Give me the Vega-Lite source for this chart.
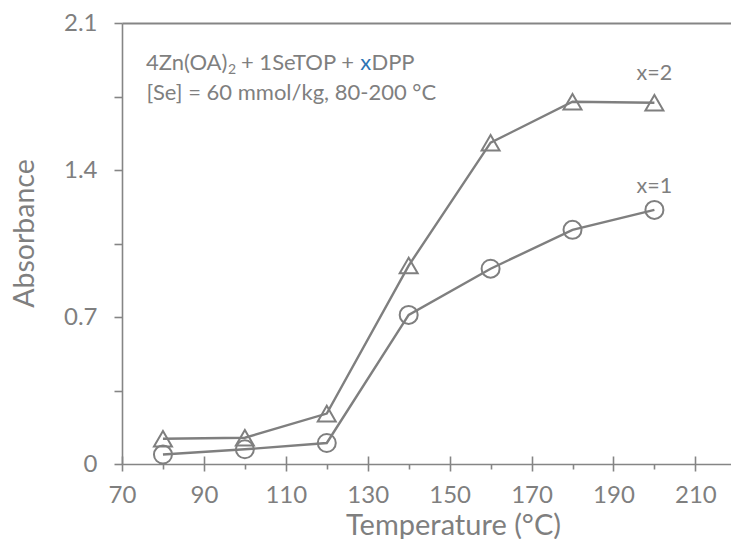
{
  "$schema": "https://vega.github.io/schema/vega-lite/v6.json",
  "width": 609,
  "height": 441,
  "autosize": {"type": "none"},
  "padding": {"left": 122, "top": 23, "right": 0, "bottom": 75},
  "background": "white",
  "config": {
    "font": "Lato",
    "view": {"stroke": null},
    "axis": {"domainColor": "#858585", "tickColor": "#858585", "labelColor": "#7f7f7f", "titleColor": "#7f7f7f", "labelFont": "Lato", "titleFont": "Lato", "titleFontWeight": "normal", "domainWidth": 1.6, "tickWidth": 1.6}
  },
  "datasets": {
    "series": [
      {"temp": 80, "absorbance": 0.045, "series": "x=1"},
      {"temp": 100, "absorbance": 0.07, "series": "x=1"},
      {"temp": 120, "absorbance": 0.1, "series": "x=1"},
      {"temp": 140, "absorbance": 0.71, "series": "x=1"},
      {"temp": 160, "absorbance": 0.93, "series": "x=1"},
      {"temp": 180, "absorbance": 1.115, "series": "x=1"},
      {"temp": 200, "absorbance": 1.21, "series": "x=1"},
      {"temp": 80, "absorbance": 0.12, "series": "x=2"},
      {"temp": 100, "absorbance": 0.125, "series": "x=2"},
      {"temp": 120, "absorbance": 0.24, "series": "x=2"},
      {"temp": 140, "absorbance": 0.945, "series": "x=2"},
      {"temp": 160, "absorbance": 1.53, "series": "x=2"},
      {"temp": 180, "absorbance": 1.725, "series": "x=2"},
      {"temp": 200, "absorbance": 1.72, "series": "x=2"}
    ],
    "notes": [
      {"temp": 75.86, "absorbance": 1.876, "text": "4Zn(OA)", "part": "main"},
      {"temp": 95.9, "absorbance": 1.857, "text": "2", "part": "sub"},
      {"temp": 99.05, "absorbance": 1.876, "text": "+ 1SeTOP +", "part": "main"},
      {"temp": 128.2, "absorbance": 1.876, "text": "x", "part": "accent"},
      {"temp": 130.9, "absorbance": 1.876, "text": "DPP", "part": "main"},
      {"temp": 75.98, "absorbance": 1.733, "text": "[Se] = 60 mmol/kg, 80-200 °C", "part": "main"}
    ],
    "seriesLabels": [
      {"temp": 200, "absorbance": 1.829, "text": "x=2"},
      {"temp": 200, "absorbance": 1.29, "text": "x=1"}
    ]
  },
  "resolve": {"axis": {"x": "independent"}},
  "layer": [
    {
      "data": {"name": "series"},
      "mark": {"type": "line", "color": "#7f7f7f", "strokeWidth": 2.4},
      "encoding": {
        "x": {
          "field": "temp", "type": "quantitative",
          "scale": {"domain": [70, 218.7], "nice": false, "zero": false},
          "axis": {
            "orient": "bottom",
            "values": [70, 80, 90, 100, 110, 120, 130, 140, 150, 160, 170, 180, 190, 200, 210],
            "tickSize": {"condition": {"test": "datum.value % 20 === 10", "value": 7}, "value": 5},
            "labelExpr": "datum.value % 20 === 10 ? datum.label : ''",
            "labelFontSize": 24,
            "labelPadding": 12,
            "labelFlush": false,
            "labelOverlap": false,
            "grid": false,
            "title": "Temperature (°C)",
            "titleFontSize": 29,
            "titleX": 331,
            "titleY": 70,
            "titleAlign": "center",
            "titleBaseline": "alphabetic"
          }
        },
        "y": {
          "field": "absorbance", "type": "quantitative",
          "scale": {"domain": [0, 2.1], "nice": false},
          "axis": {
            "values": [0, 0.35, 0.7, 1.05, 1.4, 1.75, 2.1],
            "tickSize": 8,
            "labelExpr": "indexof([0.7, 1.4, 2.1], datum.value) >= 0 ? format(datum.value, '.1f') : datum.value === 0 ? '0' : ''",
            "labelFontSize": 24,
            "labelPadding": 17,
            "labelFlush": false,
            "labelOverlap": false,
            "grid": true,
            "gridColor": "#858585",
            "gridWidth": 2,
            "gridOpacity": {"condition": {"test": "datum.value === 2.1", "value": 1}, "value": 0},
            "title": "Absorbance",
            "titleFontSize": 28.5,
            "titleAngle": -90,
            "titleX": -89,
            "titleY": 210,
            "titleAlign": "center",
            "titleBaseline": "alphabetic"
          }
        },
        "detail": {"field": "series"}
      }
    },
    {
      "data": {"name": "series"},
      "mark": {"type": "point", "filled": false, "color": "#7f7f7f", "strokeWidth": 2, "size": 324, "opacity": 1},
      "encoding": {
        "x": {
          "field": "temp", "type": "quantitative",
          "axis": {
            "orient": "bottom",
            "values": [70, 90, 110, 130, 150, 170, 190, 210],
            "tickSize": -8,
            "labels": false,
            "domain": false,
            "grid": false,
            "title": null
          }
        },
        "y": {"field": "absorbance", "type": "quantitative"},
        "shape": {
          "field": "series", "type": "nominal",
          "scale": {"domain": ["x=1", "x=2"], "range": ["circle", "triangle-up"]},
          "legend": null
        }
      }
    },
    {
      "data": {"name": "notes"},
      "transform": [{"filter": "datum.part === 'main'"}],
      "mark": {"type": "text", "align": "left", "baseline": "alphabetic", "fontSize": 22, "color": "#7f7f7f"},
      "encoding": {
        "x": {"field": "temp", "type": "quantitative", "axis": null},
        "y": {"field": "absorbance", "type": "quantitative"},
        "text": {"field": "text"}
      }
    },
    {
      "data": {"name": "notes"},
      "transform": [{"filter": "datum.part === 'sub'"}],
      "mark": {"type": "text", "align": "left", "baseline": "alphabetic", "fontSize": 14, "color": "#7f7f7f"},
      "encoding": {
        "x": {"field": "temp", "type": "quantitative", "axis": null},
        "y": {"field": "absorbance", "type": "quantitative"},
        "text": {"field": "text"}
      }
    },
    {
      "data": {"name": "notes"},
      "transform": [{"filter": "datum.part === 'accent'"}],
      "mark": {"type": "text", "align": "left", "baseline": "alphabetic", "fontSize": 22, "color": "#2e75b6"},
      "encoding": {
        "x": {"field": "temp", "type": "quantitative", "axis": null},
        "y": {"field": "absorbance", "type": "quantitative"},
        "text": {"field": "text"}
      }
    },
    {
      "data": {"name": "seriesLabels"},
      "mark": {"type": "text", "align": "center", "baseline": "alphabetic", "fontSize": 21.5, "color": "#7f7f7f"},
      "encoding": {
        "x": {"field": "temp", "type": "quantitative", "axis": null},
        "y": {"field": "absorbance", "type": "quantitative"},
        "text": {"field": "text"}
      }
    }
  ]
}
